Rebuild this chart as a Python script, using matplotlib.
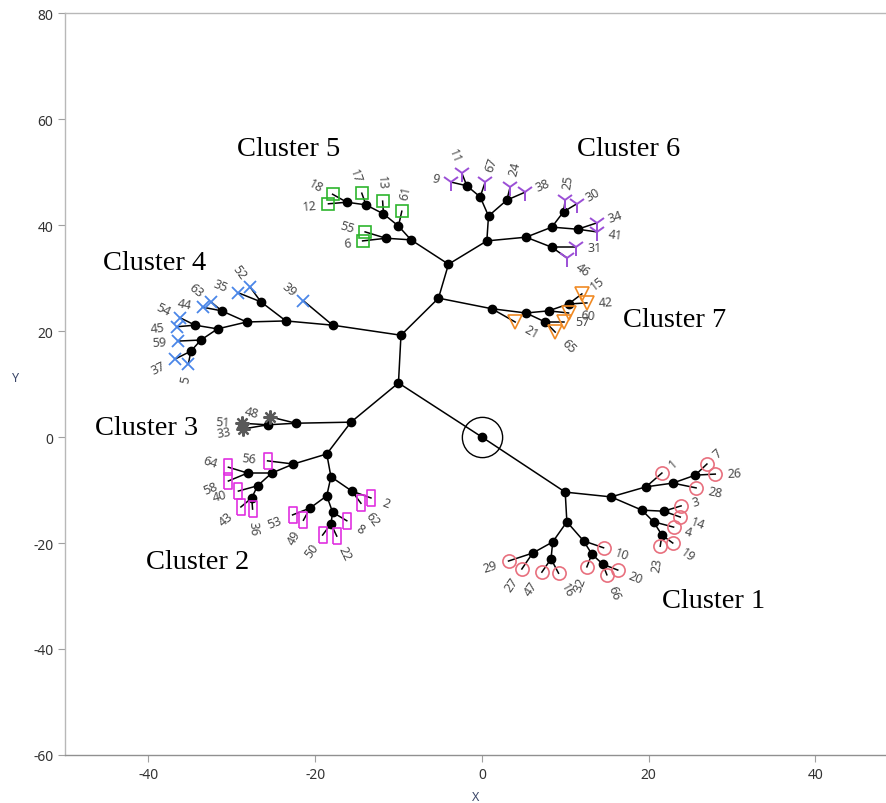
import math

import matplotlib
matplotlib.use('Agg')
import matplotlib.pyplot as plt


# internal (joining) nodes of the constellation tree
node_x = [0.0, -10.0, 10.0, -9.7, -15.7, -5.2, -17.9, -4.0, 1.2, -8.5, 0.6,
          # cluster 5
          -10.0, -11.8, -13.9, -16.2, -11.5,
          # cluster 6
          0.8, -0.2, -1.8, 3.0, 5.3, 8.4, 9.8, 11.5, 8.4,
          # cluster 7
          5.3, 8.0, 10.4, 7.6,
          # cluster 4
          -23.5, -26.5, -28.2, -31.2, -31.7, -34.4, -33.7, -34.9,
          # cluster 3
          -22.3, -25.7,
          # cluster 2
          -18.6, -22.6, -25.2, -28.1, -26.9, -27.6, -18.1, -18.6, -20.6, -17.9, -18.1, -15.6,
          # cluster 1
          15.5, 19.7, 22.9, 25.6, 19.2, 21.8, 20.6, 21.6, 10.2, 8.5, 6.1, 8.3, 12.2, 13.2, 14.5]
node_y = [0.0, 10.2, -10.4, 19.2, 2.8, 26.2, 21.1, 32.6, 24.2, 37.2, 37.0,
          39.8, 42.1, 43.8, 44.3, 37.5,
          41.7, 45.3, 47.4, 44.7, 37.7, 39.6, 42.5, 39.2, 35.8,
          23.4, 23.8, 25.1, 21.7,
          21.9, 25.5, 21.7, 23.8, 20.4, 21.1, 18.3, 16.2,
          2.6, 2.3,
          -3.2, -5.1, -6.8, -6.8, -9.2, -11.5, -7.5, -11.1, -13.4, -14.2, -16.4, -10.2,
          -11.3, -9.4, -8.7, -7.2, -13.8, -14.0, -16.0, -18.5, -16.0, -19.8, -21.9, -23.0,
          -19.6, -22.1, -24.0]
node_parent = [-1, 0, 0, 1, 1, 3, 3, 5, 5, 7, 7,
               9, 11, 12, 13, 9,
               10, 16, 17, 16, 10, 20, 21, 21, 20,
               8, 25, 26, 25,
               6, 29, 29, 31, 31, 33, 33, 35,
               4, 37,
               4, 39, 40, 41, 41, 43, 39, 45, 46, 46, 48, 45,
               2, 51, 52, 53, 51, 55, 55, 57, 2, 59, 60, 60, 59, 63, 64]

# observations (leaves)
leaf_id = ['18', '12', '17', '13', '61', '55', '6',
           '9', '11', '67', '24', '38', '25', '30', '34', '41', '31', '46',
           '21', '15', '42', '60', '57', '65',
           '39', '35', '52', '63', '44', '54', '45', '59', '37', '5',
           '48', '51', '33',
           '56', '64', '58', '40', '43', '36', '53', '49', '50', '22', '8', '62', '2',
           '1', '7', '26', '28', '3', '14', '4', '19', '23',
           '29', '27', '47', '16', '10', '32', '20', '66']
leaf_x = [-17.9, -18.4, -14.4, -11.9, -9.6, -14.0, -14.3,
          -3.7, -2.4, 0.4, 3.4, 5.2, 10.0, 11.4, 13.8, 13.8, 11.3, 10.2,
          4.0, 12.0, 12.6, 10.4, 9.8, 8.8,
          -21.4, -29.2, -27.8, -32.5, -33.5, -36.2, -36.6, -36.4, -36.8, -35.2,
          -25.4, -28.8, -28.7,
          -25.7, -30.4, -30.4, -29.2, -28.9, -27.5, -22.7, -21.4, -19.1, -17.4, -16.2, -14.5, -13.3,
          21.6, 27.0, 28.0, 25.7, 23.9, 23.8, 23.0, 22.9, 21.4,
          3.2, 4.8, 7.2, 9.2, 14.6, 12.6, 16.3, 15.0]
leaf_y = [45.8, 44.0, 46.0, 44.5, 42.6, 38.7, 37.0,
          48.1, 49.8, 48.1, 47.2, 46.2, 44.7, 44.0, 40.4, 38.7, 35.8, 33.8,
          21.7, 27.0, 25.3, 23.4, 21.7, 19.8,
          25.7, 27.2, 28.3, 25.5, 24.5, 22.5, 20.8, 18.1, 14.7, 13.8,
          3.8, 2.6, 1.5,
          -4.5, -5.7, -8.3, -10.2, -13.2, -13.6, -14.7, -15.7, -18.5, -18.7, -15.8, -12.5, -11.5,
          -6.8, -5.1, -7.0, -9.6, -13.0, -15.1, -17.0, -20.0, -20.6,
          -23.4, -24.9, -25.5, -25.7, -20.9, -24.5, -25.1, -26.0]
leaf_parent = [14, 14, 13, 12, 11, 15, 15,
               18, 18, 17, 19, 19, 22, 22, 23, 23, 24, 24,
               8, 27, 27, 26, 28, 28,
               6, 30, 30, 32, 32, 34, 34, 35, 36, 36,
               37, 38, 38,
               40, 42, 42, 43, 44, 44, 47, 47, 49, 49, 48, 50, 50,
               52, 54, 54, 53, 56, 56, 57, 58, 58,
               61, 61, 62, 62, 63, 64, 65, 65]
leaf_cluster = [5] * 7 + [6] * 11 + [7] * 6 + [4] * 10 + [3] * 3 + [2] * 13 + [1] * 17

cluster_names = ['Cluster 1', 'Cluster 2', 'Cluster 3', 'Cluster 4',
                 'Cluster 5', 'Cluster 6', 'Cluster 7']

rect = [(-0.5, -1), (0.5, -1), (0.5, 1), (-0.5, 1), (-0.5, -1)]
styles = {
    1: dict(marker='o', color='#e8707e', ms=9.5, mfc='none', mew=1.2),
    2: dict(marker=rect, color='#e030e0', ms=12, mfc='none', mew=1.2),
    3: dict(marker=(8, 2, 0), color='#5a5a5a', ms=10, mfc='none', mew=1.6),
    4: dict(marker='x', color='#4a86e8', ms=9, mfc='none', mew=1.3),
    5: dict(marker='s', color='#2db52d', ms=8.5, mfc='none', mew=1.2),
    6: dict(marker='1', color='#9b4fd6', ms=13, mfc='none', mew=1.4),
    7: dict(marker='v', color='#f08a24', ms=10.5, mfc='none', mew=1.2),
}

plt.rcParams['font.family'] = ['Noto Sans', 'DejaVu Sans']
plt.rcParams['axes.unicode_minus'] = False

fig = plt.figure(figsize=(8.87, 8.04), dpi=100)
ax = fig.add_axes([65 / 887, 48 / 804, 822 / 887, 742 / 804])
ax.set_xlim(-50, 48.6)
ax.set_ylim(-60, 80)

# branches
for i, p in enumerate(node_parent):
    if p >= 0:
        ax.plot([node_x[p], node_x[i]], [node_y[p], node_y[i]], color='black', lw=1.1, zorder=2)
for i, p in enumerate(leaf_parent):
    ax.plot([node_x[p], leaf_x[i]], [node_y[p], leaf_y[i]], color='black', lw=1.1, zorder=2)

ax.plot(node_x, node_y, 'o', color='black', ms=6, zorder=3)
ax.plot(node_x[0], node_y[0], 'o', mfc='none', mec='black', ms=29, mew=1.0, zorder=3)

# leaves and their labels
for c in range(1, 8):
    idx = [i for i, k in enumerate(leaf_cluster) if k == c]
    ax.plot([leaf_x[i] for i in idx], [leaf_y[i] for i in idx], ls='none', zorder=4, **styles[c])

for i, lab in enumerate(leaf_id):
    p = leaf_parent[i]
    x0, y0 = ax.transData.transform((node_x[p], node_y[p]))
    x1, y1 = ax.transData.transform((leaf_x[i], leaf_y[i]))
    ang = math.degrees(math.atan2(y1 - y0, x1 - x0))
    off = 8.5
    ox, oy = off * math.cos(math.radians(ang)), off * math.sin(math.radians(ang))
    if ang > 90 or ang < -90:
        rot, ha = ang - 180 if ang > 0 else ang + 180, 'right'
    else:
        rot, ha = ang, 'left'
    ax.annotate(lab, (leaf_x[i], leaf_y[i]), xytext=(ox, oy), textcoords='offset points',
                rotation=rot, rotation_mode='anchor', ha=ha, va='center',
                fontsize=9, color='#4a4a4a',
                fontweight='bold' if leaf_cluster[i] == 3 else 'normal', zorder=5)

# cluster titles
title_pos = [(21.6, -30.8), (-40.3, -23.4), (-46.4, 1.7), (-45.5, 33.0),
             (-29.4, 54.5), (11.4, 54.5), (16.9, 22.1)]
for name, (tx, ty) in zip(cluster_names, title_pos):
    ax.text(tx, ty, name, family='Liberation Serif', fontsize=20.5, ha='left', va='center', color='black')

ax.set_xticks([-40, -20, 0, 20, 40])
ax.set_yticks([-60, -40, -20, 0, 20, 40, 60, 80])
ax.tick_params(direction='out', length=5, color='#a0a0a0', labelsize=10, labelcolor='#333333')
for s in ax.spines.values():
    s.set_color('#b8b8b8')
    s.set_linewidth(1.0)
ax.spines['bottom'].set_color('#909090')
ax.set_xlabel('X', fontsize=9, color='#3a4668', labelpad=6)
ax.set_ylabel('Y', fontsize=9, color='#3a4668', rotation=0)
ax.yaxis.set_label_coords(-0.06, 0.5)

fig.savefig('out.png', dpi=100)
